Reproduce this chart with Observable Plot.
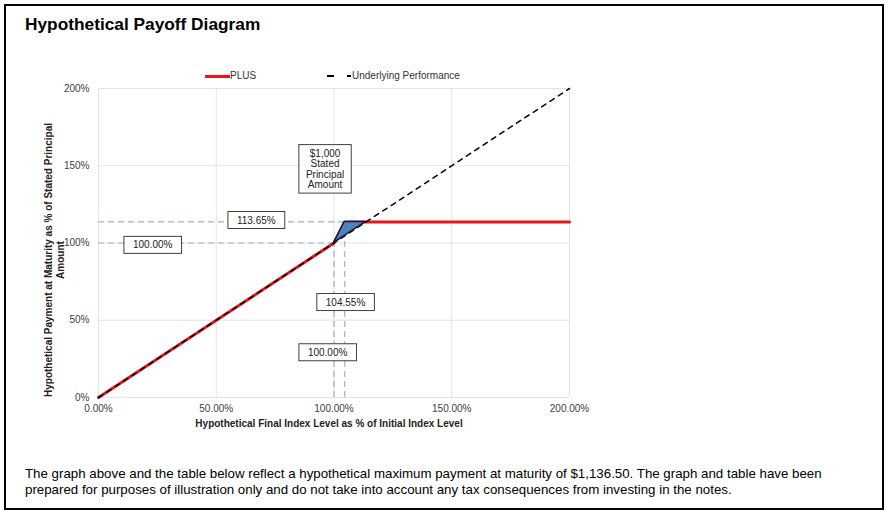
<!DOCTYPE html>
<html>
<head>
<meta charset="utf-8">
<script src="https://cdn.jsdelivr.net/npm/d3@7"></script>
<script src="https://cdn.jsdelivr.net/npm/@observablehq/plot@0.6"></script>
<style>
  html, body { margin: 0; padding: 0; background: #fff; }
  body { width: 888px; height: 513px; position: relative; overflow: hidden; font-family: "Liberation Sans", Arial, sans-serif; }
  #frame { position: absolute; left: 4px; top: 4px; width: 876px; height: 502px; border: 2px solid #000; }
  #title { position: absolute; left: 25px; top: 14px; font-size: 17.3px; font-weight: bold; color: #000; white-space: nowrap; }
  #legend { position: absolute; top: 70px; left: 0; font-size: 10px; color: #333; }
  #legend .item { position: absolute; white-space: nowrap; top: 0; }
  #chart { position: absolute; left: 0; top: 80px; }
  #caption { position: absolute; left: 25px; top: 466px; font-size: 13.3px; line-height: 16px; color: #000; white-space: nowrap; }
</style>
</head>
<body>
<div id="frame"></div>
<div id="title">Hypothetical Payoff Diagram</div>
<div id="legend"></div>
<div id="chart"></div>
<div id="caption"></div>
<script>
// ---- data ----
const xTicks = [0, 50, 100, 150, 200];
const yTicks = [0, 50, 100, 150, 200];

const plusX = [0, 100, 104.55, 200];
const plusY = [0, 100, 113.65, 113.65];

const underlyingX = [0, 200];
const underlyingY = [0, 200];

const wedgeX = [100, 104.55, 113.65];
const wedgeLow = [100, 104.55, 113.65];
const wedgeHigh = [100, 113.65, 113.65];

const refHY = [113.65, 100];
const refHX2 = [104.55, 100];
const refVX = [100, 104.55];
const refVY2 = [100, 113.65];

const calloutText = ["100.00%", "113.65%", "$1,000\nStated\nPrincipal\nAmount", "104.55%", "100.00%"];
const calloutX = [23.0, 67.0, 96.2, 104.9, 97.3];
const calloutY = [98.7, 114.8, 147.9, 61.7, 29.2];

const seriesNames = ["PLUS", "Underlying Performance"];
const xTitle = "Hypothetical Final Index Level as % of Initial Index Level";
const yTitle = "Hypothetical Payment at Maturity as % of Stated Principal\nAmount";
const captionLines = [
  "The graph above and the table below reflect a hypothetical maximum payment at maturity of $1,136.50. The graph and table have been",
  "prepared for purposes of illustration only and do not take into account any tax consequences from investing in the notes."
];

// ---- build tables ----
const plus = plusX.map((x, i) => ({x, y: plusY[i]}));
const underlying = underlyingX.map((x, i) => ({x, y: underlyingY[i]}));
const wedge = wedgeX.map((x, i) => ({x, y1: wedgeLow[i], y2: wedgeHigh[i]}));
const refH = refHY.map((y, i) => ({y, x1: 0, x2: refHX2[i]}));
const refV = refVX.map((x, i) => ({x, y1: 0, y2: refVY2[i]}));
const callouts = calloutText.map((t, i) => ({t, x: calloutX[i], y: calloutY[i]}));

const FONT = "'Liberation Sans', Arial, sans-serif";
const refColor = "#95b3d7";

const chart = Plot.plot({
  width: 888,
  height: 360,
  marginLeft: 98,
  marginRight: 319,
  marginTop: 8,
  marginBottom: 43,
  style: {fontFamily: FONT, fontSize: "10px", color: "#404040", background: "transparent"},
  x: {domain: [0, 200], ticks: xTicks, tickFormat: d => d.toFixed(2) + "%", tickSize: 0, tickPadding: 7, label: null},
  y: {domain: [0, 200], ticks: yTicks, tickFormat: d => d + "%", tickSize: 0, tickPadding: 9, label: null},
  marks: [
    Plot.ruleX(xTicks, {stroke: "#e3e3e3", strokeWidth: 1}),
    Plot.ruleY(yTicks, {stroke: "#e3e3e3", strokeWidth: 1}),
    Plot.ruleY(refH, {y: "y", x1: "x1", x2: "x2", stroke: refColor, strokeWidth: 1.2, strokeDasharray: "6,4"}),
    Plot.ruleX(refV, {x: "x", y1: "y1", y2: "y2", stroke: refColor, strokeWidth: 1.2, strokeDasharray: "6,4"}),
    Plot.line(plus, {x: "x", y: "y", stroke: "#e8141b", strokeWidth: 3}),
    Plot.line(underlying, {x: "x", y: "y", stroke: "#000", strokeWidth: 1.5, strokeDasharray: "5,5"}),
    Plot.areaY(wedge, {x: "x", y1: "y1", y2: "y2", fill: "#4f81bd", stroke: "#1a1a40", strokeWidth: 1.5, curve: "linear"}),
    Plot.text(callouts, {x: "x", y: "y", text: "t", fill: "#222", fontSize: 10, lineHeight: 1.05}),
    Plot.text([xTitle], {frameAnchor: "bottom", dx: -5, dy: 29, text: d => d, fontWeight: "bold", fill: "#222", fontSize: 10}),
    Plot.text([yTitle], {frameAnchor: "left", textAnchor: "middle", dx: -44, dy: 17, rotate: -90, text: d => d, fontWeight: "bold", fill: "#222", fontSize: 10, lineHeight: 1.15})
  ]
});
document.getElementById("chart").appendChild(chart);

// boxes behind callouts
const wanted = new Set(calloutText.map(s => s.replace(/\n/g, "")));
Array.from(chart.querySelectorAll("text")).forEach(t => {
  if (!wanted.has(t.textContent)) return;
  if (t.closest('g[aria-label="x-axis tick label"], g[aria-label="y-axis tick label"]')) return;
  const b = t.getBBox();
  const multi = t.querySelectorAll("tspan").length > 1;
  const padX = multi ? 7 : 9;
  const padY = 3;
  const r = document.createElementNS("http://www.w3.org/2000/svg", "rect");
  r.setAttribute("x", b.x - padX);
  r.setAttribute("y", b.y - padY);
  r.setAttribute("width", b.width + 2 * padX);
  r.setAttribute("height", b.height + 2 * padY);
  r.setAttribute("fill", "#fff");
  r.setAttribute("stroke", "#404040");
  r.setAttribute("stroke-width", "1");
  if (t.getAttribute("transform")) r.setAttribute("transform", t.getAttribute("transform"));
  t.parentNode.insertBefore(r, t);
});

// legend
const legend = document.getElementById("legend");
legend.innerHTML =
  `<div class="item" style="left:205px"><span style="display:inline-block;width:25px;height:0;border-top:3px solid #e8141b;vertical-align:middle"></span>${seriesNames[0]}</div>` +
  `<div class="item" style="left:327px"><span style="display:inline-block;width:7px;height:0;border-top:2.5px solid #000;vertical-align:middle;margin-right:13px"></span><span style="display:inline-block;width:4px;height:0;border-top:2.5px solid #000;vertical-align:middle;margin-right:1px"></span>${seriesNames[1]}</div>`;

document.getElementById("caption").innerHTML = captionLines.join("<br>");
</script>
</body>
</html>
